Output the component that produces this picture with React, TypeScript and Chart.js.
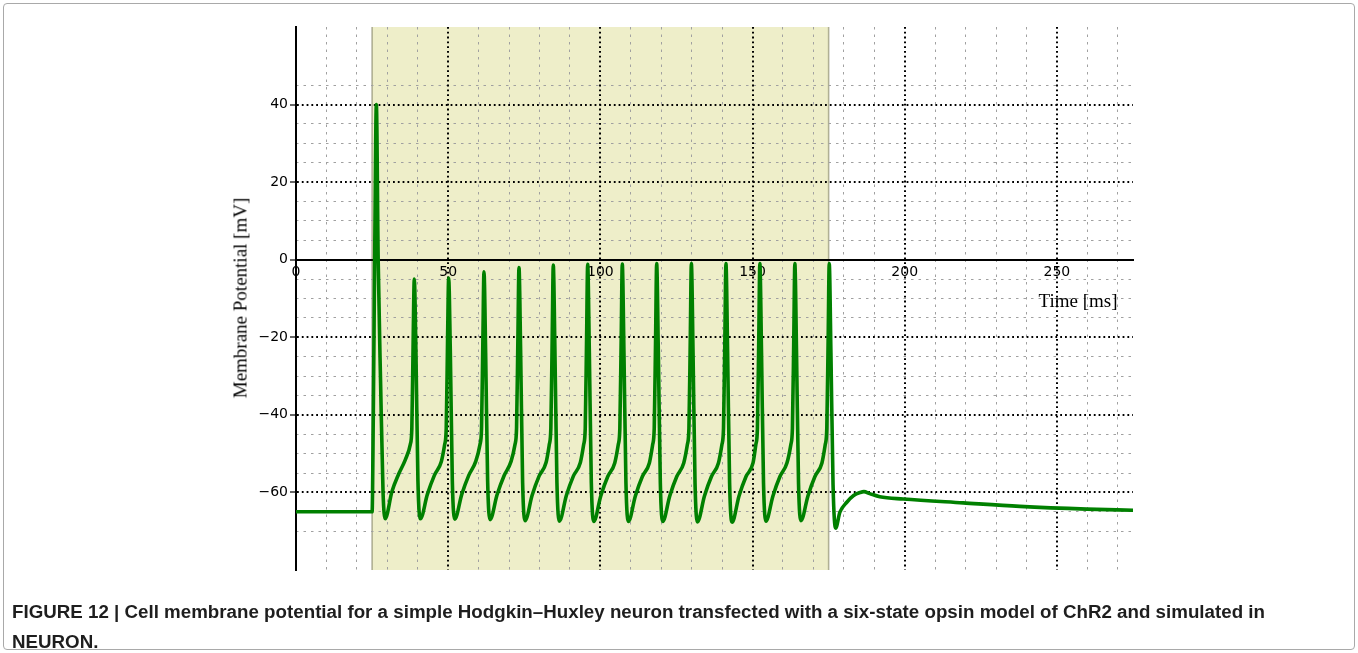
import React, { useEffect, useLayoutEffect, useRef } from 'react';
import { Chart, registerables } from 'chart.js';

Chart.register(...registerables);

// Simulated membrane potential trace (time in ms, potential in mV)
const timeMs = [
  0, 25.0, 25.4, 25.9, 26.4, 27.0, 27.8, 28.6, 29.3,
  31.5, 33.7, 35.9, 37.56, 38.06, 38.51, 38.86,
  39.41, 40.06, 40.86, 43.16, 45.46, 47.76, 48.86, 49.36, 49.81, 50.16,
  50.71, 51.36, 52.16, 54.46, 56.76, 59.06, 60.46, 60.96, 61.41, 61.76,
  62.31, 62.96, 63.76, 66.06, 68.36, 70.66, 71.96, 72.46, 72.91, 73.26,
  73.81, 74.46, 75.26, 77.56, 79.86, 82.16, 83.23, 83.73, 84.18, 84.53,
  85.08, 85.73, 86.53, 88.83, 91.13, 93.43, 94.53, 95.03, 95.48, 95.83,
  96.38, 97.03, 97.83, 100.13, 102.43, 104.73, 105.9, 106.4, 106.85, 107.2,
  107.75, 108.4, 109.2, 111.5, 113.8, 116.1, 117.2, 117.7, 118.15, 118.5,
  119.05, 119.7, 120.5, 122.8, 125.1, 127.4, 128.6, 129.1, 129.55, 129.9,
  130.45, 131.1, 131.9, 134.2, 136.5, 138.8, 139.96, 140.46, 140.91, 141.26,
  141.81, 142.46, 143.26, 145.56, 147.86, 150.16, 151.1, 151.6, 152.05, 152.4,
  152.95, 153.6, 154.4, 156.7, 159.0, 161.3, 162.6, 163.1, 163.55, 163.9,
  164.45, 165.1, 165.9, 168.2, 170.5, 172.8, 173.9, 174.4, 174.85, 175.2,
  175.75, 176.45, 177.3, 178.7, 180.9, 183.2, 185.4, 186.6, 188.5, 191.8,
  199.5, 219.2, 237.8, 259.8, 275.0,
];

const membraneMv = [
  -65.0, -65.0, -40.0, 5.0, 40.0, 0.0, -32.0, -60.0, -66.8,
  -59.8, -55.3, -51.6, -47.6, -43.5, -20.0, -5.0,
  -24.0, -57.0, -66.8, -60.5, -55.6, -52.0, -47.6, -43.5, -20.0, -4.7,
  -24.0, -57.0, -66.9, -60.5, -55.6, -52.0, -47.6, -43.5, -20.0, -3.1,
  -24.0, -57.0, -67.0, -60.6, -55.7, -52.0, -47.6, -43.5, -20.0, -2.0,
  -24.0, -57.5, -67.3, -60.8, -55.8, -52.3, -47.6, -43.5, -20.0, -1.4,
  -24.0, -57.5, -67.4, -60.8, -55.8, -52.3, -47.6, -43.5, -20.0, -1.2,
  -24.0, -57.5, -67.5, -60.9, -55.9, -52.4, -47.6, -43.5, -20.0, -1.1,
  -24.0, -57.5, -67.5, -60.9, -55.9, -52.4, -47.6, -43.5, -20.0, -1.0,
  -24.0, -57.5, -67.5, -60.9, -55.9, -52.4, -47.6, -43.5, -20.0, -1.0,
  -24.0, -57.5, -67.6, -60.9, -55.9, -52.4, -47.6, -43.5, -20.0, -1.0,
  -24.0, -57.5, -67.7, -60.9, -55.9, -52.4, -47.6, -43.5, -20.0, -1.0,
  -24.0, -57.5, -67.4, -60.9, -55.9, -52.4, -47.6, -43.5, -20.0, -1.0,
  -24.0, -57.5, -67.3, -60.9, -55.9, -52.4, -47.6, -43.5, -20.0, -1.0,
  -24.0, -58.0, -69.2, -65.1, -62.6, -60.8, -60.0, -59.8, -60.3, -61.1,
  -61.7, -62.7, -63.6, -64.3, -64.6,
];

// Light stimulus window (ms)
const stimulusWindow = [25, 175];

// Axis ranges and tick positions
const timeRange = [0, 275];
const potentialRange = [-80, 60];
const xMajorTicks = [0, 50, 100, 150, 200, 250];
const xMinorTicks = [10, 20, 30, 40, 60, 70, 80, 90, 110, 120, 130, 140, 160, 170, 180, 190, 210, 220, 230, 240, 260, 270];
const yMajorTicks = [-60, -40, -20, 0, 20, 40];
const yMinorTicks = [-70, -65, -55, -50, -45, -35, -30, -25, -15, -10, -5, 5, 10, 15, 25, 30, 35, 45];

const captionLine1 =
  'FIGURE 12 | Cell membrane potential for a simple Hodgkin\u2013Huxley neuron transfected with a six-state opsin model of ChR2 and simulated in';
const captionLine2 = 'NEURON.';

const W = 1358;
const H = 653;

const formatTick = (v: number) => (v < 0 ? '\u2212' + Math.abs(v) : String(v));
const tickFont = { family: 'DejaVu Sans', size: 14 };
const clear = 'rgba(0,0,0,0)';

const stimulusBand = {
  id: 'stimulusBand',
  beforeDraw(chart: any) {
    const { ctx, chartArea, scales } = chart;
    const x0 = scales.x.getPixelForValue(stimulusWindow[0]);
    const x1 = scales.x.getPixelForValue(stimulusWindow[1]);
    ctx.save();
    ctx.fillStyle = '#eeeec9';
    ctx.fillRect(x0, chartArea.top, x1 - x0, chartArea.bottom - chartArea.top);
    ctx.strokeStyle = 'rgba(130,130,100,0.6)';
    ctx.lineWidth = 1.6;
    ctx.beginPath();
    ctx.moveTo(x0, chartArea.top);
    ctx.lineTo(x0, chartArea.bottom);
    ctx.moveTo(x1, chartArea.top);
    ctx.lineTo(x1, chartArea.bottom);
    ctx.stroke();
    ctx.restore();
  },
};

function setTicks(values: number[]) {
  return (scale: any) => {
    scale.ticks = values.map((v) => ({ value: v }));
  };
}

export default function App() {
  const canvasRef = useRef<HTMLCanvasElement>(null);
  const cap1 = useRef<HTMLDivElement>(null);
  const cap2 = useRef<HTMLDivElement>(null);

  useLayoutEffect(() => {
    const a = cap1.current;
    const b = cap2.current;
    if (!a || !b) return;
    const k = 1253 / a.getBoundingClientRect().width;
    a.style.transform = `scaleX(${k})`;
    b.style.transform = `scaleX(${k})`;
  }, []);

  useEffect(() => {
    if (!canvasRef.current) return;
    const points = timeMs.map((t, i) => ({ x: t, y: membraneMv[i] }));
    const chart = new Chart(canvasRef.current, {
      type: 'line',
      data: {
        datasets: [
          {
            data: points,
            xAxisID: 'x',
            yAxisID: 'y',
            borderColor: '#008000',
            borderWidth: 3.6,
            borderJoinStyle: 'round',
            borderCapStyle: 'round',
            pointRadius: 0,
            fill: false,
            cubicInterpolationMode: 'monotone',
          },
        ],
      },
      options: {
        animation: false,
        responsive: false,
        devicePixelRatio: 1,
        events: [],
        layout: { padding: { left: 0, top: 27, right: W - 1133, bottom: H - 570 } },
        plugins: { legend: { display: false }, tooltip: { enabled: false } },
        scales: {
          xMinor: {
            type: 'linear',
            axis: 'x',
            min: timeRange[0],
            max: timeRange[1],
            bounds: 'data',
            position: { y: 0 },
            afterBuildTicks: setTicks(xMinorTicks),
            ticks: { display: false },
            grid: { color: '#a0a0a0', lineWidth: 1, drawTicks: false },
            border: { display: false, dash: [2.5, 5] },
          },
          yMinor: {
            type: 'linear',
            axis: 'y',
            min: potentialRange[0],
            max: potentialRange[1],
            bounds: 'data',
            position: { x: 0 },
            afterBuildTicks: setTicks(yMinorTicks),
            ticks: { display: false },
            grid: { color: '#a0a0a0', lineWidth: 1, drawTicks: false },
            border: { display: false, dash: [2.5, 5] },
          },
          x: {
            type: 'linear',
            axis: 'x',
            min: timeRange[0],
            max: timeRange[1],
            bounds: 'data',
            position: { y: 0 },
            afterBuildTicks: setTicks(xMajorTicks),
            ticks: {
              font: tickFont,
              color: '#000',
              padding: 4,
              maxRotation: 0,
              autoSkip: false,
              callback: (v: any) => formatTick(Number(v)),
            },
            grid: {
              color: (c: any) => (c.tick && c.tick.value === 0 ? clear : '#000'),
              lineWidth: 2,
              drawTicks: false,
            },
            border: { display: true, color: '#000', width: 2, dash: [1.8, 3.0] },
          },
          y: {
            type: 'linear',
            axis: 'y',
            min: potentialRange[0],
            max: potentialRange[1],
            bounds: 'data',
            position: 'left',
            afterFit: (s: any) => {
              s.width = 296;
            },
            afterBuildTicks: setTicks(yMajorTicks),
            ticks: {
              font: tickFont,
              color: '#000',
              padding: 2,
              autoSkip: false,
              callback: (v: any) => formatTick(Number(v)),
            },
            grid: {
              color: (c: any) => (c.tick && c.tick.value === 0 ? clear : '#000'),
              lineWidth: 2,
              drawTicks: true,
              tickLength: 6,
              tickColor: '#000',
              tickWidth: 1.2,
            },
            border: { display: true, color: '#000', width: 2, dash: [1.8, 3.0] },
          },
        },
      } as any,
      plugins: [stimulusBand],
    });
    return () => chart.destroy();
  }, []);

  const serif = '"Liberation Serif", "DejaVu Serif", serif';
  const captionStyle: React.CSSProperties = {
    position: 'absolute',
    left: 12,
    whiteSpace: 'nowrap',
    fontFamily: '"Liberation Sans", Arial, sans-serif',
    fontWeight: 700,
    fontSize: 18,
    lineHeight: '20px',
    color: '#1e1e1e',
    transformOrigin: '0 0',
  };

  return (
    <div
      style={{
        position: 'absolute',
        left: 0,
        top: 0,
        width: W,
        height: H,
        background: '#fff',
        overflow: 'hidden',
      }}
    >
      <div
        style={{
          position: 'absolute',
          left: 3,
          top: 3,
          width: W - 8,
          height: H - 8,
          border: '1px solid #a9a9a9',
          borderRadius: 4,
        }}
      />
      <canvas ref={canvasRef} width={W} height={H} style={{ position: 'absolute', left: 0, top: 0 }} />
      <div
        style={{
          position: 'absolute',
          left: 240,
          top: 298,
          transform: 'translate(-50%, -50%) rotate(-90deg)',
          whiteSpace: 'nowrap',
          fontFamily: serif,
          fontSize: 19,
          lineHeight: 1,
          color: '#000',
        }}
      >
        Membrane Potential [mV]
      </div>
      <div
        style={{
          position: 'absolute',
          left: 1078,
          top: 300,
          transform: 'translate(-50%, -50%)',
          whiteSpace: 'nowrap',
          fontFamily: serif,
          fontSize: 19,
          lineHeight: 1,
          color: '#000',
        }}
      >
        Time [ms]
      </div>
      <div ref={cap1} style={{ ...captionStyle, top: 602 }}>
        {captionLine1}
      </div>
      <div ref={cap2} style={{ ...captionStyle, top: 632 }}>
        {captionLine2}
      </div>
    </div>
  );
}
